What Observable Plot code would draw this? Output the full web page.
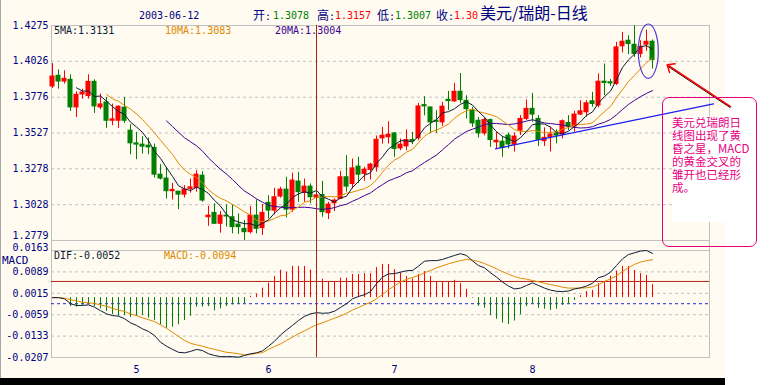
<!DOCTYPE html>
<html><head><meta charset="utf-8">
<script src="https://cdn.jsdelivr.net/npm/d3@7"></script>
<script src="https://cdn.jsdelivr.net/npm/@observablehq/plot@0.6"></script>
<style>
body{margin:0;background:#fff;}
#wrap{position:relative;width:771px;height:385px;overflow:hidden;background:#fff;font-family:"DejaVu Sans Mono",monospace;}
#panel{position:absolute;left:0;top:0;width:725px;height:378px;background:#fffbf0;border-left:1px solid #a8a8a8;box-sizing:border-box;}
#bar{position:absolute;left:0;top:378px;width:725px;height:7px;background:#000;}
.t{position:absolute;white-space:nowrap;font-size:10px;line-height:12px;}
.cj{font-family:"Noto Sans CJK SC",sans-serif;font-size:12px;}
svg{position:absolute;left:0;}
#box{position:absolute;left:662px;top:97px;width:95px;height:150px;border:1px solid #e6007e;border-radius:7px;box-sizing:border-box;}
#note{position:absolute;left:672px;top:116px;width:74px;height:106px;background:#fff;}
.nl{position:absolute;left:0;height:13px;line-height:13px;overflow:visible;color:#e6007e;font-family:"Noto Sans CJK SC",sans-serif;font-size:11.5px;white-space:nowrap;}
</style></head>
<body>
<div id="wrap">
  <div id="panel"></div>
  <div id="bar"></div>
</div>
<script>
// ---- data ----
const openP  = [1.3851,1.3925,1.3885,1.3897,1.3705,1.3795,1.3784,1.3883,1.3705,1.3740,1.3612,1.3612,1.3703,1.3543,1.3455,1.3446,1.3439,1.3423,1.3237,1.3210,1.3122,1.3119,1.3098,1.3138,1.3145,1.3230,1.2941,1.2971,1.2895,1.2952,1.2941,1.2890,1.2860,1.2837,1.2952,1.2865,1.3041,1.2987,1.3085,1.3133,1.2994,1.3189,1.3110,1.3154,1.3078,1.3096,1.2969,1.3038,1.3068,1.3219,1.3172,1.3293,1.3242,1.3270,1.3288,1.3490,1.3497,1.3524,1.3420,1.3434,1.3478,1.3490,1.3721,1.3705,1.3612,1.3601,1.3758,1.3747,1.3814,1.3751,1.3682,1.3612,1.3524,1.3617,1.3462,1.3466,1.3509,1.3445,1.3544,1.3625,1.3695,1.3625,1.3470,1.3498,1.3521,1.3516,1.3597,1.3572,1.3655,1.3671,1.3748,1.3718,1.3884,1.3880,1.3868,1.4130,1.4169,1.4141,1.4077,1.4141,1.4162];
const highP  = [1.4010,1.3966,1.3960,1.3932,1.3814,1.3832,1.3932,1.3897,1.3798,1.3774,1.3728,1.3716,1.3774,1.3585,1.3531,1.3501,1.3492,1.3450,1.3307,1.3288,1.3177,1.3119,1.3161,1.3207,1.3265,1.3258,1.3017,1.3034,1.2980,1.3027,1.3027,1.2964,1.2918,1.3015,1.3061,1.3029,1.3091,1.3142,1.3149,1.3219,1.3247,1.3254,1.3207,1.3172,1.3157,1.3191,1.3045,1.3068,1.3260,1.3369,1.3346,1.3358,1.3288,1.3316,1.3506,1.3566,1.3605,1.3531,1.3485,1.3548,1.3531,1.3733,1.3779,1.3705,1.3682,1.3740,1.3816,1.3872,1.3941,1.3786,1.3705,1.3635,1.3635,1.3624,1.3531,1.3501,1.3526,1.3526,1.3648,1.3757,1.3803,1.3648,1.3563,1.3567,1.3549,1.3618,1.3648,1.3678,1.3752,1.3752,1.3810,1.3938,1.4007,1.3900,1.4158,1.4227,1.4204,1.4273,1.4169,1.4243,1.4174];
const lowP   = [1.3837,1.3832,1.3867,1.3677,1.3635,1.3763,1.3763,1.3663,1.3689,1.3559,1.3578,1.3559,1.3594,1.3376,1.3341,1.3381,1.3376,1.3214,1.3200,1.3068,1.3061,1.2994,1.3075,1.3108,1.3115,1.3045,1.2878,1.2895,1.2830,1.2872,1.2825,1.2821,1.2779,1.2825,1.2825,1.2814,1.2929,1.2957,1.3073,1.2936,1.2976,1.3045,1.3045,1.3034,1.3007,1.2941,1.2925,1.2980,1.3068,1.3115,1.3138,1.3177,1.3191,1.3200,1.3254,1.3450,1.3450,1.3358,1.3404,1.3404,1.3446,1.3473,1.3647,1.3524,1.3524,1.3573,1.3682,1.3740,1.3733,1.3624,1.3566,1.3492,1.3508,1.3427,1.3416,1.3358,1.3417,1.3394,1.3509,1.3614,1.3602,1.3433,1.3433,1.3394,1.3451,1.3486,1.3544,1.3533,1.3648,1.3637,1.3706,1.3702,1.3787,1.3850,1.3857,1.4084,1.4072,1.4053,1.4049,1.4095,1.3972];
const closeP = [1.3920,1.3885,1.3904,1.3705,1.3793,1.3809,1.3883,1.3712,1.3726,1.3612,1.3622,1.3710,1.3612,1.3455,1.3446,1.3432,1.3427,1.3237,1.3210,1.3122,1.3131,1.3098,1.3133,1.3149,1.3237,1.3057,1.2952,1.2895,1.2952,1.2946,1.2872,1.2872,1.2837,1.2952,1.2860,1.2971,1.2987,1.3080,1.3133,1.2994,1.3196,1.3115,1.3154,1.3080,1.3093,1.2976,1.3029,1.3057,1.3219,1.3154,1.3281,1.3237,1.3272,1.3307,1.3480,1.3508,1.3515,1.3416,1.3446,1.3478,1.3469,1.3712,1.3712,1.3601,1.3605,1.3710,1.3749,1.3814,1.3756,1.3693,1.3594,1.3524,1.3617,1.3478,1.3473,1.3423,1.3447,1.3502,1.3625,1.3695,1.3655,1.3479,1.3493,1.3516,1.3509,1.3609,1.3572,1.3655,1.3678,1.3734,1.3729,1.3884,1.3875,1.3872,1.4123,1.4162,1.4146,1.4077,1.4127,1.4162,1.4035];

const difV  = [0.0000,0.0000,-0.0004,-0.0021,-0.0027,-0.0027,-0.0025,-0.0033,-0.0045,-0.0056,-0.0062,-0.0064,-0.0073,-0.0087,-0.0096,-0.0108,-0.0117,-0.0131,-0.0154,-0.0168,-0.0179,-0.0189,-0.0191,-0.0186,-0.0179,-0.0183,-0.0194,-0.0200,-0.0204,-0.0204,-0.0204,-0.0206,-0.0200,-0.0194,-0.0191,-0.0184,-0.0168,-0.0151,-0.0129,-0.0112,-0.0096,-0.0079,-0.0065,-0.0056,-0.0052,-0.0054,-0.0053,-0.0047,-0.0034,-0.0021,-0.0004,0.0004,0.0010,0.0021,0.0048,0.0071,0.0082,0.0083,0.0088,0.0093,0.0094,0.0109,0.0126,0.0128,0.0128,0.0132,0.0139,0.0146,0.0152,0.0146,0.0127,0.0111,0.0103,0.0086,0.0071,0.0054,0.0040,0.0030,0.0033,0.0042,0.0051,0.0042,0.0033,0.0026,0.0022,0.0021,0.0023,0.0030,0.0034,0.0040,0.0050,0.0069,0.0075,0.0088,0.0111,0.0134,0.0149,0.0155,0.0161,0.0163,0.0153];
const deaV  = [0.0000,0.0000,-0.0002,-0.0007,-0.0011,-0.0016,-0.0018,-0.0020,-0.0025,-0.0030,-0.0037,-0.0043,-0.0048,-0.0056,-0.0062,-0.0070,-0.0076,-0.0083,-0.0094,-0.0106,-0.0120,-0.0134,-0.0148,-0.0158,-0.0163,-0.0168,-0.0174,-0.0179,-0.0184,-0.0189,-0.0191,-0.0194,-0.0198,-0.0197,-0.0192,-0.0190,-0.0179,-0.0169,-0.0160,-0.0148,-0.0137,-0.0125,-0.0115,-0.0104,-0.0094,-0.0087,-0.0079,-0.0071,-0.0064,-0.0054,-0.0043,-0.0034,-0.0025,-0.0016,-0.0004,0.0011,0.0027,0.0041,0.0054,0.0063,0.0070,0.0076,0.0086,0.0094,0.0103,0.0110,0.0117,0.0123,0.0128,0.0132,0.0130,0.0125,0.0118,0.0109,0.0100,0.0090,0.0081,0.0073,0.0067,0.0064,0.0059,0.0055,0.0050,0.0045,0.0041,0.0036,0.0033,0.0033,0.0033,0.0034,0.0037,0.0045,0.0056,0.0065,0.0076,0.0090,0.0104,0.0115,0.0123,0.0128,0.0131];
const histV = [0,0,0,-0.0031,-0.0033,-0.0027,-0.0021,-0.0031,-0.0039,-0.0048,-0.0058,-0.0064,-0.0062,-0.0068,-0.0065,-0.0062,-0.0071,-0.0079,-0.0094,-0.0106,-0.0102,-0.0094,-0.0079,-0.0064,-0.0033,-0.0033,-0.0031,-0.0046,-0.0039,-0.0031,-0.0025,-0.0023,-0.0021,0.0005,0.0012,0.0033,0.0050,0.0073,0.0095,0.0088,0.0108,0.0108,0.0108,0.0095,0.0084,0.0064,0.0054,0.0054,0.0067,0.0067,0.0080,0.0080,0.0083,0.0083,0.0104,0.0115,0.0115,0.0097,0.0085,0.0073,0.0065,0.0080,0.0090,0.0073,0.0054,0.0054,0.0054,0.0060,0.0049,0.0029,-0.0002,-0.0030,-0.0037,-0.0062,-0.0075,-0.0088,-0.0093,-0.0081,-0.0059,-0.0031,-0.0022,-0.0037,-0.0040,-0.0044,-0.0040,-0.0027,-0.0022,-0.0010,0.0007,0.0021,0.0025,0.0048,0.0056,0.0074,0.0092,0.0108,0.0108,0.0094,0.0083,0.0077,0.0045];

const priceTicks = [1.4275,1.4026,1.3776,1.3527,1.3278,1.3028,1.2779];
const macdTicks  = [0.0163,0.0089,0.0015,-0.0059,-0.0133,-0.0207];
const monthTicks  = [14,36,57,80];
const monthLabels = ["5","6","7","8"];
const crossIndex = [44];
const macdRedRef  = [0.0056];
const macdBlueRef = [-0.0021];
const trendK = [73.83,110.17], trendP = [1.3417,1.3730];
const arrowK = [113.0,102.45], arrowP = [1.3711,1.4002];
const ellK = [97.72,101.05], ellP = [1.3904,1.4282];
const noteLines = ["美元兑瑞朗日","线图出现了黄","昏之星，MACD","的黄金交叉的","雏开也已经形","成。"];

// ---- tables ----
const candles = openP.map((o,i)=>({k:i,open:o,high:highP[i],low:lowP[i],close:closeP[i]}));
const macdRows = difV.map((d,i)=>({k:i,dif:d,dea:deaV[i],hist:histV[i]}));
const trend = trendK.map((k,i)=>({k,p:trendP[i]}));
const arrowRow = [{k1:arrowK[0],p1:arrowP[0],k2:arrowK[1],p2:arrowP[1]}];

const RED="#ff0000", GREEN="#008000", NAVY="#000080", GRAY="#c0c0c0";
const C5="#0a1a35", C10="#e08a00", C20="#400090", CROSS="#b02010";
const xDomain=[-1/6,109.5];
const style={background:"transparent",fontFamily:"DejaVu Sans Mono, monospace",fontSize:"10px",color:NAVY,overflow:"visible"};
const candleColor = d => d.close >= d.open ? RED : GREEN;
const fmt4 = d => d.toFixed(4);

const main = Plot.plot({
  width:771,height:241,marginLeft:51,marginRight:62,marginTop:25,marginBottom:1,
  style,
  x:{domain:xDomain,axis:null},
  y:{domain:[1.2779,1.4275],ticks:priceTicks.slice(0,-1),tickFormat:fmt4,tickSize:0,tickPadding:3,label:null},
  marks:[
    Plot.ruleY(priceTicks.slice(1,-1),{stroke:GRAY,strokeDasharray:"3,3"}),
    Plot.frame({stroke:GRAY}),
    Plot.ruleX(candles,{x:"k",y1:"low",y2:"high",stroke:candleColor}),
    Plot.rect(candles,{x1:d=>d.k-0.42,x2:d=>d.k+0.42,y1:d=>Math.min(d.open,d.close),y2:d=>Math.max(d.open,d.close),fill:candleColor,insetTop:-0.5,insetBottom:-0.5}),
    Plot.lineY(candles,Plot.windowY({k:20,anchor:"end",strict:true},{x:"k",y:"close",stroke:C20,strokeWidth:1})),
    Plot.lineY(candles,Plot.windowY({k:10,anchor:"end",strict:true},{x:"k",y:"close",stroke:C10,strokeWidth:1})),
    Plot.lineY(candles,Plot.windowY({k:5,anchor:"end",strict:true},{x:"k",y:"close",stroke:C5,strokeWidth:1})),
    Plot.line(trend,{x:"k",y:"p",stroke:"#1c1cf0",strokeWidth:1.2}),
    Plot.link(arrowRow,{x1:"k1",y1:"p1",x2:"k2",y2:"p2",stroke:"#000",strokeWidth:1,dy:1.2}),
    Plot.arrow(arrowRow,{x1:"k1",y1:"p1",x2:"k2",y2:"p2",stroke:"#ff0000",strokeWidth:1.5,headLength:8,headAngle:80}),
    Plot.ruleX(crossIndex,{stroke:CROSS}),
    Plot.text(priceTicks.slice(-1),{y:d=>d,text:fmt4,frameAnchor:"left",textAnchor:"end",dx:-3,dy:-5,fill:NAVY})
  ]
});
main.style.top="0px";
{
  const sx=main.scale("x"), sy=main.scale("y");
  d3.select(main).append("ellipse")
    .attr("cx",(sx.apply(ellK[0])+sx.apply(ellK[1]))/2)
    .attr("cy",(sy.apply(ellP[0])+sy.apply(ellP[1]))/2)
    .attr("rx",Math.abs(sx.apply(ellK[1])-sx.apply(ellK[0]))/2)
    .attr("ry",Math.abs(sy.apply(ellP[1])-sy.apply(ellP[0]))/2)
    .attr("fill","none").attr("stroke","#5a3ad6").attr("stroke-width",1.2);
}

const macd = Plot.plot({
  width:771,height:145,marginLeft:51,marginRight:62,marginTop:10,marginBottom:28,
  style,
  x:{domain:xDomain,ticks:monthTicks,tickFormat:d=>monthLabels[monthTicks.indexOf(d)],tickSize:0,tickPadding:8,label:null},
  y:{domain:[-0.0207,0.0163],ticks:macdTicks.slice(1),tickFormat:fmt4,tickSize:0,tickPadding:3,label:null},
  marks:[
    Plot.ruleY(macdTicks.slice(1,-1),{stroke:GRAY,strokeDasharray:"3,3"}),
    Plot.frame({stroke:GRAY}),
    Plot.ruleX(xDomain,{stroke:GRAY,insetTop:-10}),
    Plot.ruleY(macdBlueRef,{stroke:"#2828d8",strokeDasharray:"3,3"}),
    Plot.ruleY(macdRedRef,{stroke:CROSS}),
    Plot.ruleX(macdRows,{x:"k",y1:0,y2:"hist",stroke:d=>d.hist>=0?RED:GREEN}),
    Plot.line(macdRows,{x:"k",y:"dea",stroke:C10,strokeWidth:1}),
    Plot.line(macdRows,{x:"k",y:"dif",stroke:C5,strokeWidth:1}),
    Plot.ruleX(crossIndex,{stroke:CROSS,insetTop:-10}),
    Plot.text([macdTicks[0]],{y:d=>d,text:fmt4,frameAnchor:"left",textAnchor:"end",dx:-3,dy:-3,fill:NAVY})
  ]
});
macd.style.top="240px";

const wrap=document.getElementById("wrap");
wrap.appendChild(main);
wrap.appendChild(macd);

function addText(html,left,top,color,extra){
  const s=document.createElement("div");
  s.className="t"; s.innerHTML=html;
  s.style.left=left+"px"; s.style.top=top+"px"; s.style.color=color;
  if(extra) Object.assign(s.style,extra);
  wrap.appendChild(s); return s;
}
addText("2003-06-12",139,10,NAVY);
addText('<span class="cj">开</span>:',253,9,NAVY); addText("1.3078",273,10,GREEN);
addText('<span class="cj">高</span>:',317,9,NAVY); addText("1.3157",335,10,RED);
addText('<span class="cj">低</span>:',377,9,NAVY); addText("1.3007",395,10,GREEN);
addText('<span class="cj">收</span>:',436,9,NAVY); addText("1.30",454,10,RED);
addText("美元/瑞朗-日线",480,1,NAVY,{fontFamily:'"Noto Sans CJK SC",sans-serif',fontSize:"16px",lineHeight:"22px"});
addText("5MA:1.3131",54,25,C5);
addText("10MA:1.3083",165,25,C10);
addText("20MA:1.3004",275,25,C20);
addText("DIF:-0.0052",54,250,C5);
addText("MACD:-0.0094",164,250,C10);
addText("MACD",2,255,NAVY,{fontSize:"11px"});

const box=document.createElement("div"); box.id="box"; wrap.appendChild(box);
const note=document.createElement("div"); note.id="note";
noteLines.forEach((line,i)=>{
  const d=document.createElement("div"); d.className="nl";
  d.style.top=(i*13)+"px"; d.textContent=line; note.appendChild(d);
});
wrap.appendChild(note);
</script>
</body></html>
